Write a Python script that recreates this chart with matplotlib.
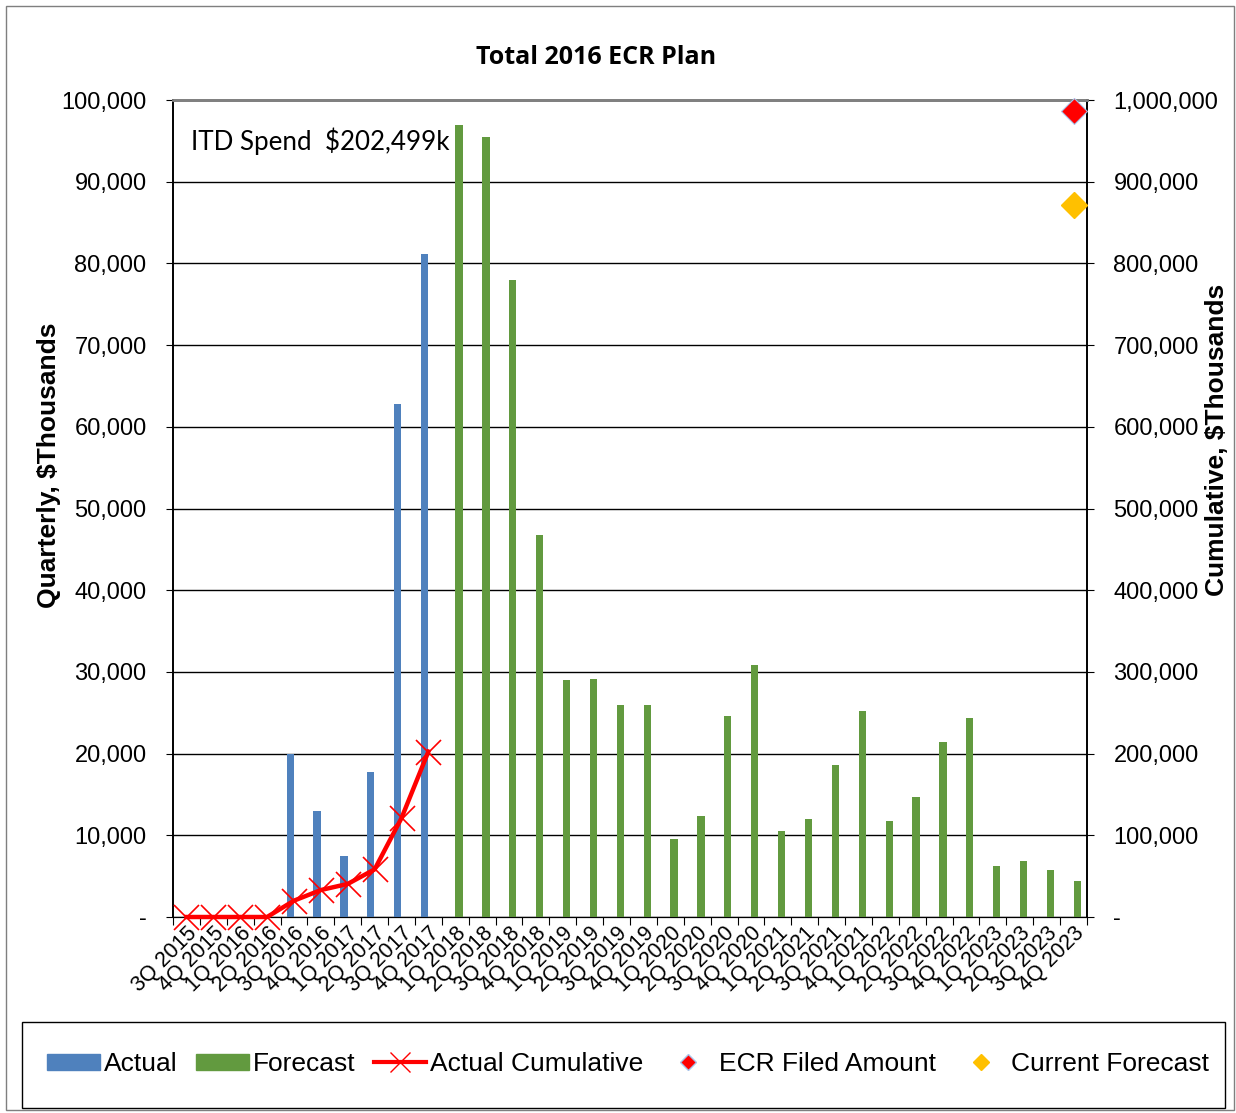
import numpy as np
import matplotlib
matplotlib.use("Agg")
import matplotlib.pyplot as plt
from matplotlib.patches import Rectangle
from matplotlib.lines import Line2D
from matplotlib.ticker import FuncFormatter

plt.rcParams["font.family"] = ["Liberation Sans", "DejaVu Sans"]

quarters = [f"{q}Q {y}" for y, qs in [(2015, [3, 4])] + [(y, [1, 2, 3, 4]) for y in range(2016, 2024)] for q in qs]
actual = [0, 0, 0, 0, 20000, 13000, 7500, 17800, 62800, 81100] + [0] * 24
forecast = [0] * 10 + [97000, 95500, 78000, 46800, 29000, 29100, 26000, 26000,
                       9500, 12400, 24600, 30900, 10500, 12000, 18600, 25200,
                       11700, 14700, 21400, 24400, 6300, 6800, 5700, 4400]
actual_cum = [0, 0, 0, 0, 20000, 33000, 40500, 58300, 121100, 202500]
ecr_filed = 986500
current_forecast = 871000

BLUE = "#4f81bd"
GREEN = "#629a3f"

fig = plt.figure(figsize=(12.36, 11.13), dpi=100)
# outer chart border
fig.patches.append(Rectangle((6 / 1236, 3 / 1113), 1228 / 1236, 1104 / 1113, transform=fig.transFigure,
                             fill=False, edgecolor="#7f7f7f", lw=1))

L, R, T, B = 173, 1087, 100, 917
ax = fig.add_axes([L / 1236, 1 - B / 1113, (R - L) / 1236, (B - T) / 1113])
ax2 = ax.twinx()

x = np.arange(len(quarters))
w = 0.27
ax.bar(x - 0.14, actual, width=w, color=BLUE, zorder=3)
ax.bar(x + 0.14, forecast, width=w, color=GREEN, zorder=3)

ax.set_xlim(-0.5, len(quarters) - 0.5)
ax.set_ylim(0, 100000)
ax2.set_ylim(0, 1000000)
ax.set_yticks(np.arange(0, 100001, 10000))
ax2.set_yticks(np.arange(0, 1000001, 100000))
fmt = FuncFormatter(lambda v, p: "-" if v == 0 else f"{v:,.0f}")
ax.yaxis.set_major_formatter(fmt)
ax2.yaxis.set_major_formatter(fmt)
ax.grid(axis="y", color="black", lw=1, zorder=0)
ax.set_axisbelow(True)

ax.set_xticks(np.arange(-0.5, len(quarters), 1), minor=False)
ax.set_xticklabels([])
ax.set_xticks(x, minor=True)
ax.set_xticklabels(quarters, minor=True, rotation=45, ha="right", rotation_mode="anchor", fontsize=15.5)
ax.tick_params(axis="x", which="minor", length=0, pad=4)
ax.tick_params(axis="x", which="major", length=6, direction="out")
ax.tick_params(axis="y", labelsize=17, length=5, pad=14, direction="out")
ax2.tick_params(axis="y", labelsize=17, length=5, pad=14, direction="out")

for a in (ax, ax2):
    a.spines["top"].set_color("#808080")
    a.spines["top"].set_linewidth(2)
    a.spines["left"].set_linewidth(1.2)
    a.spines["right"].set_linewidth(1.2)

ax2.plot(x[:len(actual_cum)], actual_cum, color="red", lw=3.2, marker="x", markersize=18,
         markeredgewidth=1.2, zorder=5, clip_on=False)
ax2.plot([x[-1]], [ecr_filed], marker="D", color="red", markersize=13, markeredgecolor="#a9c4ea",
         markeredgewidth=0.8, ls="none", zorder=6, clip_on=False)
ax2.plot([x[-1]], [current_forecast], marker="D", color="#ffc000", markersize=13, ls="none", zorder=6)

ax.set_ylabel("Quarterly, $Thousands", fontsize=19, fontweight="bold")
ax2.set_ylabel("Cumulative, $Thousands", fontsize=19, fontweight="bold")
ax.yaxis.set_label_coords(-0.123, 0.553)
ax2.yaxis.set_label_coords(1.129, 0.584)

ax.text(0.02, 0.95, "ITD Spend  $202,499k", transform=ax.transAxes, fontsize=18.7, va="center",
        family=["Lato", "DejaVu Sans"])
fig.text(596 / 1236, 1 - 57 / 1113, "Total 2016 ECR Plan", fontsize=18, fontweight="bold",
         ha="center", va="center", family=["Open Sans", "DejaVu Sans"])

# legend box
fig.patches.append(Rectangle((22 / 1236, 5 / 1113), 1203 / 1236, 86 / 1113, transform=fig.transFigure,
                             fill=False, edgecolor="black", lw=1))
handles = [
    Rectangle((0, 0), 1, 1, color=BLUE),
    Rectangle((0, 0), 1, 1, color=GREEN),
    Line2D([], [], color="red", lw=3, marker="x", markersize=14, markeredgewidth=1),
    Line2D([], [], color="red", marker="D", markersize=8, ls="none", markeredgecolor="#a9c4ea"),
    Line2D([], [], color="#ffc000", marker="D", markersize=8, ls="none"),
]
labels = ["Actual", "Forecast", "Actual Cumulative", "ECR Filed Amount", "Current Forecast"]
fig.legend(handles, labels, loc="center", bbox_to_anchor=(628 / 1236, 1 - 1064 / 1113), ncol=5,
           frameon=False, fontsize=19, handlelength=2.0, handleheight=0.55, handletextpad=0.15,
           columnspacing=0.7, borderpad=0)

fig.savefig("out.png", dpi=100)
